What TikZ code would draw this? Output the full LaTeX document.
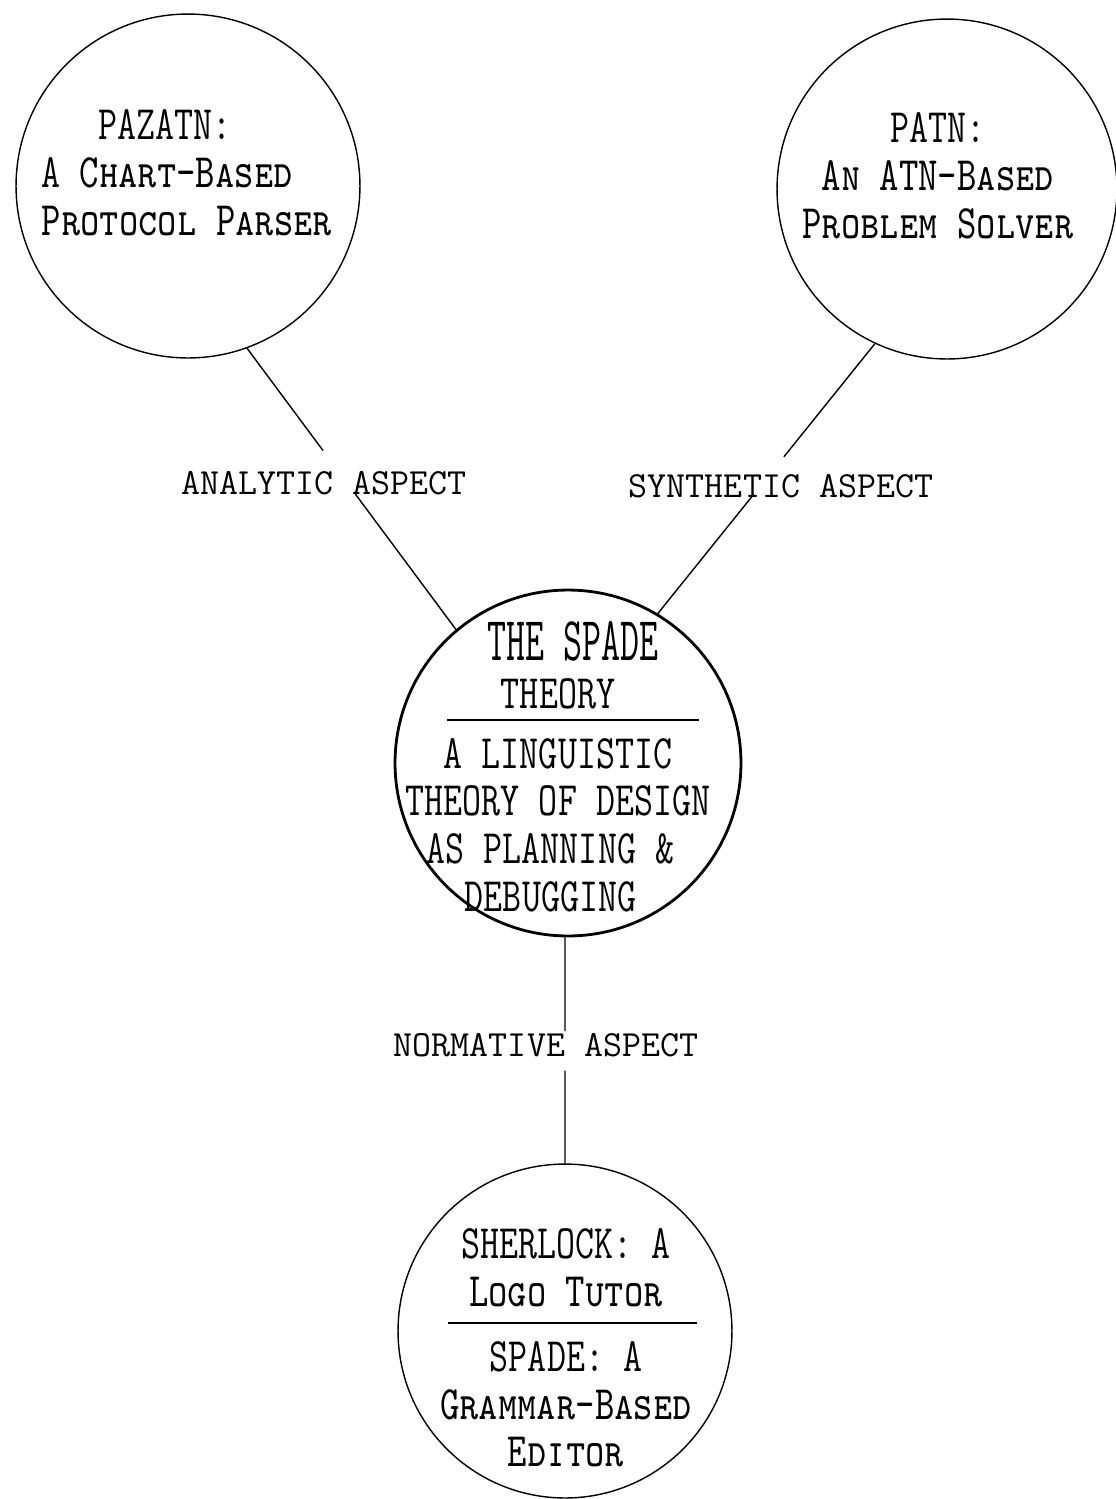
\documentclass[tikz,border=0pt]{standalone}
\usepackage{graphicx}
\usepackage{tikz}

\newcommand\typedfont{\ttfamily\fontsize{21}{21}\selectfont}
\newcommand\stretched[1]{\scalebox{1}[1.3]{#1}}

\begin{document}
\begin{tikzpicture}[x=0.02cm,y=-0.02cm,
    bubble/.style={draw,circle,inner sep=0pt,line width=0.8pt,minimum size=#1},
    bubbletext/.style={inner sep=0pt,font=\typedfont},
    aspect/.style={inner sep=0pt,font=\typedfont},
    divider/.style={line width=1pt}]
  \useasboundingbox (0,0) rectangle (1116,1499);

  \node [bubble=6.88cm] (pazatn) at (188,186) {};
  \node [bubble=6.8cm] (patn) at (947,189) {};
  \node [bubble=6.92cm,line width=1.6pt] (spade) at (568,763) {};
  \node [bubble=6.68cm] (sherlock) at (565,1331) {};

  \node [bubbletext] (pazatn_txt) at (187,178) {\stretched{\begin{tabular}{@{}l@{}}
      \phantom{AAA}PAZATN:\\ A \textsc{Chart-Based}\\ \textsc{Protocol Parser}\end{tabular}}};
  \node [bubbletext] (patn_txt) at (938,181) {\stretched{\begin{tabular}{@{}c@{}}
      PATN:\\ \textsc{An ATN-Based}\\ \textsc{Problem Solver}\end{tabular}}};
  \node [bubbletext] (spade_txt) at (558,774) {\stretched{\begin{tabular}{@{}c@{}}
      \hspace*{0.6cm}\scalebox{1}[1.3]{THE SPADE}\\ THEORY\\[5pt] A LINGUISTIC\\ THEORY OF DESIGN\\
      AS PLANNING \&\hspace*{0.3cm}\\ DEBUGGING\hspace*{0.3cm}\end{tabular}}};
  \node [bubbletext] (sherlock_txt) at (566,1353) {\stretched{\begin{tabular}{@{}c@{}}
      SHERLOCK: A\\ \textsc{Logo Tutor}\\[7.4pt] SPADE: A\\ \textsc{Grammar-Based}\\
      \textsc{Editor}\end{tabular}}};

  \draw [divider] (447,720) -- (699,720);
  \draw [divider] (448,1323) -- (697,1323);

  \node [aspect] (analytic) at (324,483) {ANALYTIC ASPECT};
  \node [aspect] (synthetic) at (781,486) {SYNTHETIC ASPECT};
  \node [aspect] (normative) at (546,1045) {NORMATIVE ASPECT};

  \path (pazatn.-70) -- (spade.130) coordinate [pos=0.364] (ana_top) coordinate [pos=0.512] (ana_bot);
  \path (patn.-115) -- (spade.59) coordinate [pos=0.419] (syn_top) coordinate [pos=0.559] (syn_bot);
  \path (spade.-91) -- (sherlock.north) coordinate [pos=0.415] (nor_top) coordinate [pos=0.59] (nor_bot);

  \path [draw,line width=0.8pt]
    (pazatn.-70) edge (ana_top)
    (ana_bot) edge (spade.130)
    (patn.-115) edge (syn_top)
    (syn_bot) edge (spade.59)
    (spade.-91) edge (nor_top)
    (nor_bot) edge (sherlock.north);

\end{tikzpicture}
\end{document}
